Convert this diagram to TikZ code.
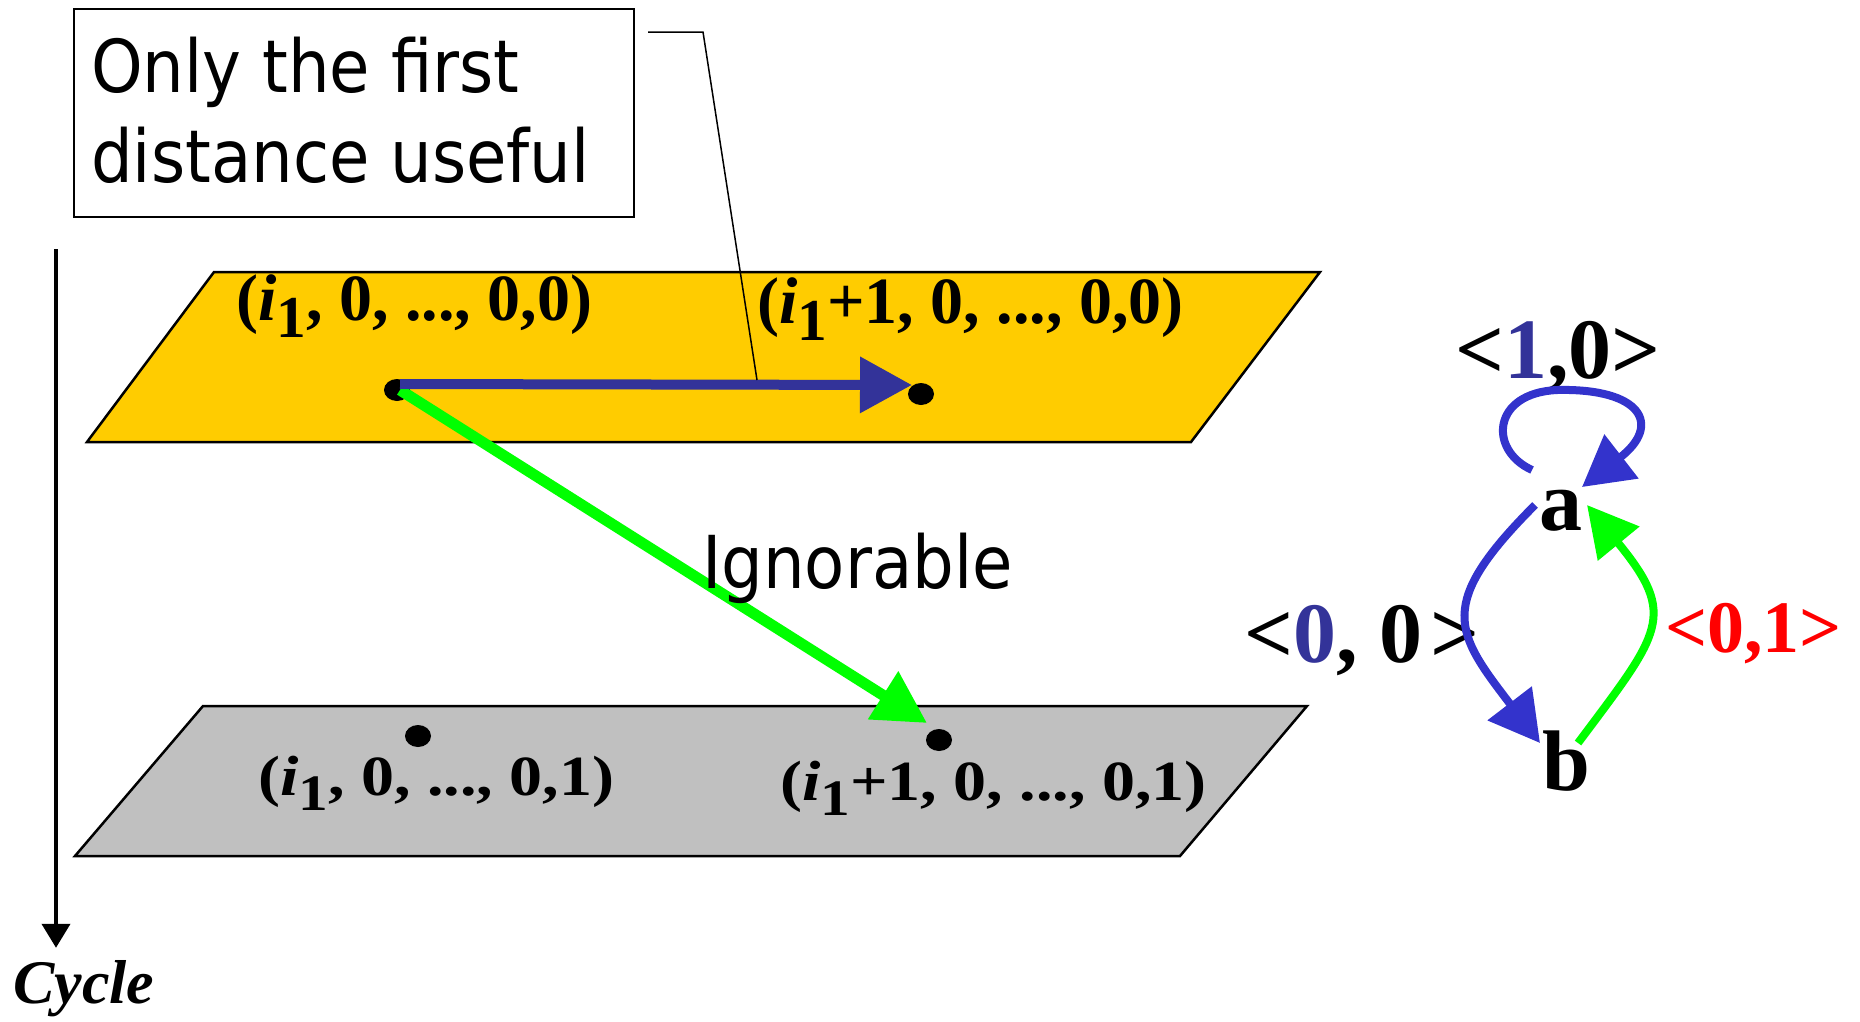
\documentclass[tikz,border=0pt]{standalone}
\usepackage{fontspec}
\usepackage{graphicx}
\setmainfont{Liberation Serif}
\newfontfamily\tahomalike[FakeStretch=0.9]{DejaVu Sans}
\usetikzlibrary{arrows.meta,shapes.geometric,calc}
\definecolor{planeY}{RGB}{255,204,0}
\definecolor{planeG}{RGB}{192,192,192}
\definecolor{navy}{RGB}{51,51,153}
\definecolor{arcblue}{RGB}{51,51,204}
\definecolor{brightgreen}{RGB}{0,255,0}
\definecolor{labred}{RGB}{255,0,0}
\newcommand\idxone{\textit{i}\raisebox{-0.27em}{\scalebox{0.9}{1}}}
\begin{document}
\begin{tikzpicture}[x=1pt,y=-1pt,
  plane/.style={draw=black,line width=2.5pt,line join=miter},
  dot/.style={ellipse,fill=black,inner sep=0pt,minimum width=26pt,minimum height=22pt},
  coordlab/.style={font=\fontsize{66}{66}\selectfont\bfseries,inner sep=0pt,anchor=base west},
  sanslab/.style={font=\tahomalike\fontsize{73}{73}\selectfont,inner sep=0pt,anchor=base west},
  glab/.style={font=\fontsize{86}{86}\selectfont\bfseries,inner sep=0pt,anchor=base west},
  gnode/.style={font=\fontsize{86}{86}\selectfont\bfseries,inner sep=0pt,anchor=base},
  bluearrow/.style={draw=navy,line width=10pt,-{Triangle[length=52pt,width=54pt]}},
  greenarrow/.style={draw=brightgreen,line width=11pt,-{Triangle[length=52pt,width=54pt]}},
  arcarrow/.style={draw=arcblue,line width=8pt,-{Triangle[length=50pt,width=54pt]}},
  greenarc/.style={draw=brightgreen,line width=8pt,-{Triangle[length=50pt,width=52pt]}},
  callout/.style={draw=black,line width=1.5pt},
  cyclearrow/.style={draw=black,line width=4pt,-{Triangle[length=24pt,width=28pt]}}
]
\useasboundingbox (0,0) rectangle (1860,1021);

% planes
\path[plane,fill=planeY] (214,272) -- (1320,272) -- (1191,442) -- (87,442) -- cycle;
\path[plane,fill=planeG] (203,706) -- (1307,706) -- (1180,856) -- (75,856) -- cycle;

% callout box
\node[draw=black,line width=2pt,minimum width=560pt,minimum height=208pt,anchor=north west,inner sep=0pt] (box) at (73,8) {};
\node[sanslab] (boxl1) at (91,92) {Only the first};
\node[sanslab] (boxl2) at (91,182) {distance useful};

% plane labels
\node[coordlab] (t1) at (236,320) {(\idxone, 0, ..., 0,0)};
\node[coordlab] (t2) at (757,323) {(\idxone+1, 0, ..., 0,0)};
\node[coordlab] (t3) at (258,795) {\scalebox{1}[0.86]{(\idxone, 0, ..., 0,1)}};
\node[coordlab] (t4) at (780,800) {\scalebox{1}[0.86]{(\idxone+1, 0, ..., 0,1)}};

% dots
\node[dot] (p1) at (397,390) {};
\node[dot] (p2) at (921,394) {};
\node[dot] (p3) at (418,736) {};
\node[dot] (p4) at (939,740) {};

% arrows between dots
\draw[greenarrow] ([xshift=3pt]p1.center) -- ([xshift=-12pt,yshift=17pt]p4.center);
\draw[bluearrow] ([xshift=3pt,yshift=6pt]p1.center) -- ([xshift=-9pt,yshift=9pt]p2.center);
\node[sanslab] (ign) at (702,588) {Ignorable};

% callout line
\coordinate (cstart) at (648,32);
\coordinate (cend) at (757,380);
\draw[callout] (cstart) -- (703,32) -- (cend);

% cycle axis
\coordinate (cyctop) at (56,249);
\node[font=\fontsize{62}{62}\selectfont\bfseries\itshape,inner sep=0pt,anchor=base west] (cyc) at (13,1003) {Cycle};
\draw[cyclearrow] (cyctop) -- (cyctop |- cyc.north) [shorten >=12pt];

% graph
\node[gnode] (a) at (1561,530) {a};
\node[gnode] (b) at (1566,790) {b};
\node[glab] (l10) at (1455,378) {<\textcolor{navy}{1},0>};
\node[glab] (l00) at (1244,662) {<\textcolor{navy}{0}, 0\kern0.1em>};
\node[glab,font=\fontsize{74}{74}\selectfont\bfseries,text=labred] (l01) at (1665,652) {<0,1>};

\draw[arcarrow] ($(a.base)+(-29,-60)$) .. controls (1488,450) and (1492,393) .. (1557,390)
  .. controls (1642,388) and (1662,425) .. ($(a.base)+(21,-43)$);
\draw[arcarrow] ($(a.base)+(-26,-25)$) .. controls (1435,605) and (1455,632) .. ($(b.base)+(-26,-47)$);
\draw[greenarc] ($(b.base)+(12,-47)$) .. controls (1661,632) and (1678,616) .. ($(a.base)+(26,-25)$);
\end{tikzpicture}
\end{document}
